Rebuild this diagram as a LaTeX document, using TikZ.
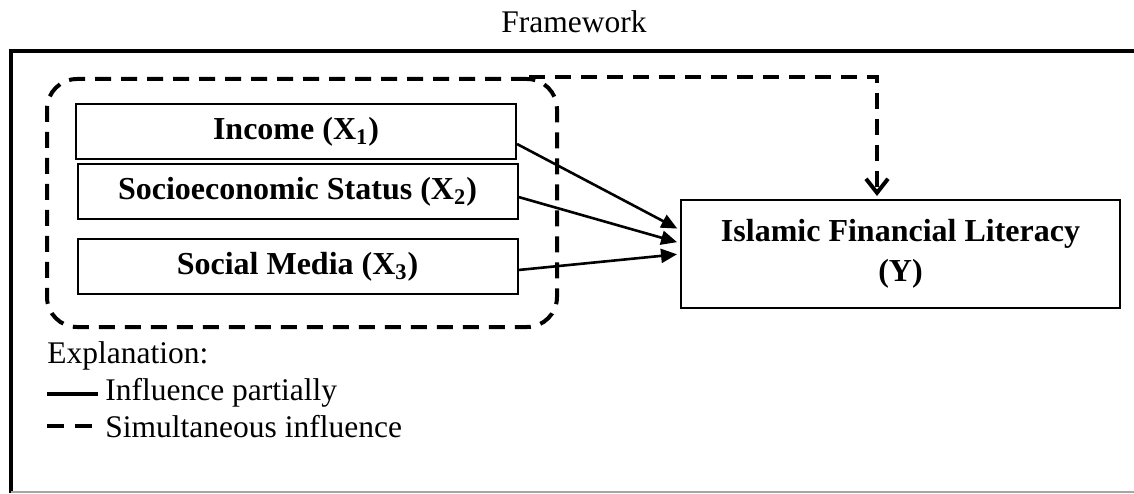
\documentclass[tikz,border=0pt]{standalone}
\usepackage{fontspec}
\setmainfont{Liberation Serif}
\usetikzlibrary{arrows.meta}

\begin{document}
\begin{tikzpicture}[x=0.5pt,y=0.5pt,
	varbox/.style={draw,line width=1pt,minimum width=220pt,minimum height=27.5pt,inner sep=0pt,
		font=\fontsize{16}{20}\selectfont\bfseries},
	txt/.style={inner sep=0pt,anchor=base west,font=\fontsize{15.75}{19}\selectfont},
	partial/.style={line width=1.3pt,-{Triangle[length=8pt,width=7pt]}},
	simul/.style={line width=2pt,dash pattern=on 8pt off 5pt}]
		\useasboundingbox (0,0) rectangle (1134,493);

		% draw frame
		\draw[line width=2pt] (1134,442) -- (11,442) -- (11,0);
		\draw[gray!70,line width=0.6pt] (11,1) -- (1134,1);
		\node[inner sep=0pt,font=\fontsize{15.75}{19}\selectfont] (title) at (574,471) {Framework};

		% draw group of variables
		\node[simul,draw,rounded corners=15pt,minimum width=255pt,minimum height=124pt] (grp) at (302,290) {};

		% draw nodes
		\node[varbox] (inc) at (296,361.5) {Income (X\textsubscript{1})};
		\node[varbox] (ses) at (297.5,301) {Socioeconomic Status (X\textsubscript{2})};
		\node[varbox] (sm) at (297.5,226.5) {Social Media (X\textsubscript{3})};
		\node[varbox,minimum width=219.5pt,minimum height=54pt,align=center] (lit) at (900.5,239)
			{Islamic Financial Literacy\\(Y)};

		% draw arrows
		\draw[partial,shorten >=1.5pt] ([yshift=-6.25pt]inc.east) -- ([yshift=12pt]lit.west);
		\draw[partial,shorten >=1.5pt] ([yshift=-2.5pt]ses.east) -- ([yshift=5.5pt]lit.west);
		\draw[partial,shorten >=1.5pt] ([yshift=-1.75pt]sm.east) -- (lit.west);
		\draw[simul,-{Straight Barb[length=7pt,width=11pt]},shorten >=1.5pt]
			([xshift=-15pt]grp.north east) -| ([xshift=-11.75pt]lit.north);

		% draw legend
		\node[txt] (expl) at (47,130) {Explanation:};
		\node[txt] (lg1) at (105,93) {Influence partially};
		\node[txt] (lg2) at (105,56) {Simultaneous influence};
		\coordinate (a1) at (47,99);
		\coordinate (a2) at (47,67);
		\draw[line width=1.6pt,shorten >=3.5pt] (a1) -- (a1 -| lg1.west);
		\draw[line width=2pt,dash pattern=on 8.5pt off 5.5pt,shorten >=6.5pt] (a2) -- (a2 -| lg2.west);
	\end{tikzpicture}
\end{document}
